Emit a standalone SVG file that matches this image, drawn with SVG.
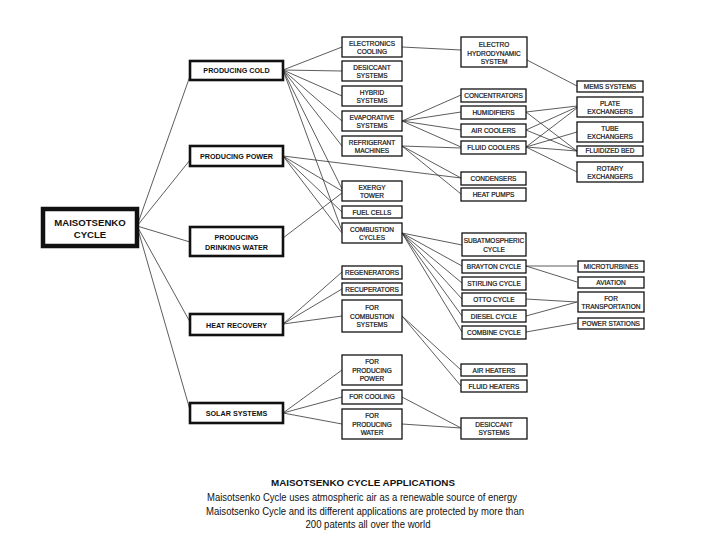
<svg xmlns="http://www.w3.org/2000/svg" width="710" height="547" viewBox="0 0 710 547">
<style>
.b{fill:#fff;stroke:#111;stroke-width:1.3}
.b1{fill:#fff;stroke:#111;stroke-width:2.6}
.b0{fill:#fff;stroke:#111;stroke-width:4.5}
.t{font-family:"Liberation Sans",Arial,sans-serif;font-size:6.5px;fill:#111;stroke:#111;stroke-width:0.2;text-anchor:middle}
.t1{font-family:"Liberation Sans",Arial,sans-serif;font-size:7.2px;font-weight:bold;fill:#111;text-anchor:middle}
.t0{font-family:"Liberation Sans",Arial,sans-serif;font-size:9.6px;font-weight:bold;fill:#111;text-anchor:middle}
.c path{fill:none;stroke:#333;stroke-width:0.8}
.cap{font-family:"Liberation Sans",Arial,sans-serif;fill:#111;text-anchor:middle}
</style>
<rect width="710" height="547" fill="#fff"/>
<g class="c" id="connectors">
<path d="M137,226L190,76M137,226L190,160M137,226L190,242M137,226L190,322M137,226L190,410"/>
<path d="M283,70L342,47M283,70L342,71M283,70L342,96M283,70L342,121M283,70L342,146M283,70L342,189M283,70L342,231"/>
<path d="M283,156L461,178M283,156L342,191M283,156L342,212M283,156L342,233"/>
<path d="M283,238L342,193"/>
<path d="M283,324L342,272M283,324L342,289M283,324L342,316"/>
<path d="M283,413L342,370M283,413L342,397M283,413L342,424"/>
<path d="M402,47L461,50M527,60L577,86"/>
<path d="M402,121L461,95M402,121L461,112M402,121L461,130M402,121L461,147"/>
<path d="M402,146L461,148M402,146L461,178M402,146L461,194"/>
<path d="M526,112L577,106M526,112L577,151M526,130L577,107M526,130L577,151M526,147L577,108M526,147L577,132M526,147L577,151M526,147L577,172"/>
<path d="M402,233L462,245M402,233L462,266M402,233L462,283M402,233L462,299M402,233L462,316M402,233L462,332"/>
<path d="M526,266L577,266M526,266L577,282M526,299L577,302M526,316L577,302M526,332L577,323"/>
<path d="M402,316L461,370M402,316L461,386M402,397L461,428M402,424L461,428"/>
</g>
<g id="maisotsenko"><rect class="b0" x="43" y="209" width="94" height="37"/><text class="t0" x="90" y="226">MAISOTSENKO</text><text class="t0" x="90" y="238">CYCLE</text></g>
<g id="prod-cold"><rect class="b1" x="190" y="61" width="93" height="19"/><text class="t1" x="236.5" y="73">PRODUCING COLD</text></g>
<g id="prod-power"><rect class="b1" x="190" y="146" width="93" height="20"/><text class="t1" x="236.5" y="158.5">PRODUCING POWER</text></g>
<g id="prod-water"><rect class="b1" x="190" y="227" width="93" height="29"/><text class="t1" x="236.5" y="239.5">PRODUCING</text><text class="t1" x="236.5" y="249.5">DRINKING WATER</text></g>
<g id="heat-recovery"><rect class="b1" x="190" y="314" width="93" height="21"/><text class="t1" x="236.5" y="327.5">HEAT RECOVERY</text></g>
<g id="solar"><rect class="b1" x="190" y="403" width="93" height="20"/><text class="t1" x="236.5" y="415.5">SOLAR SYSTEMS</text></g>
<g id="electronics"><rect class="b" x="342" y="37" width="60" height="20"/><text class="t" x="372" y="45.5">ELECTRONICS</text><text class="t" x="372" y="53.5">COOLING</text></g>
<g id="desiccant"><rect class="b" x="342" y="61" width="60" height="20"/><text class="t" x="372" y="69.5">DESICCANT</text><text class="t" x="372" y="77.5">SYSTEMS</text></g>
<g id="hybrid"><rect class="b" x="342" y="86" width="60" height="20"/><text class="t" x="372" y="94.5">HYBRID</text><text class="t" x="372" y="102.5">SYSTEMS</text></g>
<g id="evaporative"><rect class="b" x="342" y="111" width="60" height="20"/><text class="t" x="372" y="119.5">EVAPORATIVE</text><text class="t" x="372" y="127.5">SYSTEMS</text></g>
<g id="refrigerant"><rect class="b" x="342" y="136" width="60" height="20"/><text class="t" x="372" y="144.5">REFRIGERANT</text><text class="t" x="372" y="152.5">MACHINES</text></g>
<g id="exergy"><rect class="b" x="342" y="181" width="60" height="20"/><text class="t" x="372" y="189.5">EXERGY</text><text class="t" x="372" y="197.5">TOWER</text></g>
<g id="fuel"><rect class="b" x="342" y="206" width="60" height="12"/><text class="t" x="372" y="214.5">FUEL CELLS</text></g>
<g id="combustion"><rect class="b" x="342" y="223" width="60" height="20"/><text class="t" x="372" y="231.5">COMBUSTION</text><text class="t" x="372" y="239.5">CYCLES</text></g>
<g id="regenerators"><rect class="b" x="342" y="266" width="60" height="13"/><text class="t" x="372" y="274.8">REGENERATORS</text></g>
<g id="recuperators"><rect class="b" x="342" y="283" width="60" height="12"/><text class="t" x="372" y="291.5">RECUPERATORS</text></g>
<g id="for-combustion"><rect class="b" x="342" y="300" width="60" height="32"/><text class="t" x="372" y="309.5">FOR</text><text class="t" x="372" y="318.5">COMBUSTION</text><text class="t" x="372" y="327">SYSTEMS</text></g>
<g id="for-power"><rect class="b" x="342" y="355" width="60" height="30"/><text class="t" x="372" y="364">FOR</text><text class="t" x="372" y="372.5">PRODUCING</text><text class="t" x="372" y="381">POWER</text></g>
<g id="for-cooling"><rect class="b" x="342" y="390" width="60" height="14"/><text class="t" x="372" y="399.3">FOR COOLING</text></g>
<g id="for-water"><rect class="b" x="342" y="409" width="60" height="30"/><text class="t" x="372" y="418">FOR</text><text class="t" x="372" y="426.5">PRODUCING</text><text class="t" x="372" y="435">WATER</text></g>
<g id="ehd"><rect class="b" x="461" y="37" width="66" height="30"/><text class="t" x="494" y="47">ELECTRO</text><text class="t" x="494" y="55.5">HYDRODYNAMIC</text><text class="t" x="494" y="64">SYSTEM</text></g>
<g id="concentrators"><rect class="b" x="461" y="89" width="65" height="13"/><text class="t" x="493.5" y="97.8">CONCENTRATORS</text></g>
<g id="humidifiers"><rect class="b" x="461" y="106" width="65" height="13"/><text class="t" x="493.5" y="114.8">HUMIDIFIERS</text></g>
<g id="air-coolers"><rect class="b" x="461" y="124" width="65" height="13"/><text class="t" x="493.5" y="132.8">AIR COOLERS</text></g>
<g id="fluid-coolers"><rect class="b" x="461" y="141" width="65" height="13"/><text class="t" x="493.5" y="149.8">FLUID COOLERS</text></g>
<g id="condensers"><rect class="b" x="461" y="172" width="65" height="13"/><text class="t" x="493.5" y="180.8">CONDENSERS</text></g>
<g id="heat-pumps"><rect class="b" x="461" y="188" width="65" height="13"/><text class="t" x="493.5" y="196.8">HEAT PUMPS</text></g>
<g id="subatmospheric"><rect class="b" x="462" y="233" width="64" height="23"/><text class="t" x="494" y="242.5">SUBATMOSPHERIC</text><text class="t" x="494" y="251.5">CYCLE</text></g>
<g id="brayton"><rect class="b" x="462" y="260" width="64" height="13"/><text class="t" x="494" y="268.8">BRAYTON CYCLE</text></g>
<g id="stirling"><rect class="b" x="462" y="277" width="64" height="13"/><text class="t" x="494" y="285.8">STIRLING CYCLE</text></g>
<g id="otto"><rect class="b" x="462" y="293" width="64" height="13"/><text class="t" x="494" y="301.8">OTTO CYCLE</text></g>
<g id="diesel"><rect class="b" x="462" y="310" width="64" height="12"/><text class="t" x="494" y="318.5">DIESEL CYCLE</text></g>
<g id="combine"><rect class="b" x="462" y="326" width="64" height="13"/><text class="t" x="494" y="334.8">COMBINE CYCLE</text></g>
<g id="air-heaters"><rect class="b" x="461" y="364" width="66" height="12"/><text class="t" x="494" y="372.5">AIR HEATERS</text></g>
<g id="fluid-heaters"><rect class="b" x="461" y="380" width="66" height="12"/><text class="t" x="494" y="388.5">FLUID HEATERS</text></g>
<g id="desiccant2"><rect class="b" x="461" y="418" width="66" height="21"/><text class="t" x="494" y="426.5">DESICCANT</text><text class="t" x="494" y="435">SYSTEMS</text></g>
<g id="mems"><rect class="b" x="577" y="81" width="66" height="11"/><text class="t" x="610" y="88.8">MEMS SYSTEMS</text></g>
<g id="plate"><rect class="b" x="577" y="97" width="66" height="20"/><text class="t" x="610" y="105.5">PLATE</text><text class="t" x="610" y="113.5">EXCHANGERS</text></g>
<g id="tube"><rect class="b" x="577" y="122" width="66" height="20"/><text class="t" x="610" y="130.5">TUBE</text><text class="t" x="610" y="138.5">EXCHANGERS</text></g>
<g id="fluidized"><rect class="b" x="577" y="146" width="66" height="10"/><text class="t" x="610" y="153.3">FLUIDIZED BED</text></g>
<g id="rotary"><rect class="b" x="577" y="162" width="66" height="20"/><text class="t" x="610" y="170.5">ROTARY</text><text class="t" x="610" y="178.5">EXCHANGERS</text></g>
<g id="microturbines"><rect class="b" x="578" y="261" width="66" height="11"/><text class="t" x="611" y="268.8">MICROTURBINES</text></g>
<g id="aviation"><rect class="b" x="578" y="277" width="66" height="11"/><text class="t" x="611" y="284.8">AVIATION</text></g>
<g id="transportation"><rect class="b" x="578" y="292" width="66" height="20"/><text class="t" x="611" y="300.5">FOR</text><text class="t" x="611" y="308.5">TRANSPORTATION</text></g>
<g id="power-stations"><rect class="b" x="578" y="318" width="66" height="11"/><text class="t" x="611" y="325.8">POWER STATIONS</text></g>
<g id="caption">
<text class="cap" x="363" y="486" font-size="9.8" font-weight="bold" textLength="184" lengthAdjust="spacingAndGlyphs">MAISOTSENKO CYCLE APPLICATIONS</text>
<text class="cap" x="362" y="501" font-size="10.5" textLength="310" lengthAdjust="spacingAndGlyphs">Maisotsenko Cycle uses atmospheric air as a renewable source of energy</text>
<text class="cap" x="365" y="515" font-size="10.5" textLength="318" lengthAdjust="spacingAndGlyphs">Maisotsenko Cycle and its different applications are protected by more than</text>
<text class="cap" x="368" y="528" font-size="10.5" textLength="125" lengthAdjust="spacingAndGlyphs">200 patents all over the world</text>
</g>
</svg>
